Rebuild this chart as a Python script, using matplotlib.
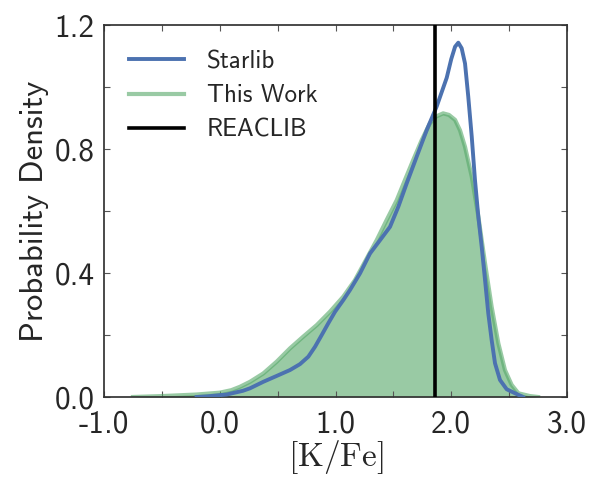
import matplotlib
matplotlib.use("Agg")
import matplotlib.pyplot as plt
from matplotlib.ticker import FixedLocator, FixedFormatter

# Starlib KDE
starlib_x = [-0.20, -0.11, 0.06, 0.20, 0.261, 0.376, 0.492, 0.607, 0.693, 0.765, 0.823,
             0.881, 0.938, 0.996, 1.068, 1.125, 1.212, 1.298, 1.385, 1.471, 1.543, 1.615,
             1.701, 1.788, 1.874, 1.961, 2.00, 2.033, 2.061, 2.09, 2.119, 2.147, 2.177,
             2.205, 2.234, 2.263, 2.292, 2.320, 2.349, 2.378, 2.421, 2.479, 2.551, 2.62]
starlib_y = [0.000, 0.002, 0.008, 0.020, 0.028, 0.049, 0.068, 0.087, 0.106, 0.130, 0.162,
             0.200, 0.238, 0.275, 0.313, 0.345, 0.399, 0.463, 0.506, 0.549, 0.614, 0.689,
             0.775, 0.861, 0.937, 1.030, 1.090, 1.130, 1.143, 1.125, 1.076, 0.969, 0.840,
             0.700, 0.582, 0.485, 0.377, 0.270, 0.184, 0.109, 0.055, 0.025, 0.012, 0.000]

# This Work KDE
this_x = [-0.75, -0.50, -0.20, 0.00, 0.10, 0.175, 0.261, 0.376, 0.492, 0.607, 0.722,
          0.838, 0.952, 1.068, 1.168, 1.27, 1.356, 1.442, 1.529, 1.60, 1.672, 1.745,
          1.816, 1.87, 1.93, 1.98, 2.033, 2.076, 2.119, 2.177, 2.234, 2.292, 2.349,
          2.407, 2.464, 2.522, 2.58, 2.68, 2.75]
this_y = [0.000, 0.003, 0.008, 0.014, 0.022, 0.033, 0.049, 0.076, 0.114, 0.157, 0.195,
          0.232, 0.275, 0.324, 0.377, 0.447, 0.506, 0.571, 0.635, 0.700, 0.765, 0.829,
          0.883, 0.905, 0.915, 0.910, 0.894, 0.860, 0.807, 0.711, 0.582, 0.431, 0.291,
          0.173, 0.087, 0.039, 0.012, 0.003, 0.000]

reaclib_x = 1.86

x_ticks = [-1.0, 0.0, 1.0, 2.0, 3.0]
x_tick_labels = ["-1.0", "0.0", "1.0", "2.0", "3.0"]
x_minor = [-0.5, 0.5, 1.5, 2.5]
y_ticks = [0.0, 0.4, 0.8, 1.2]
y_tick_labels = ["0.0", "0.4", "0.8", "1.2"]
y_minor = [0.2, 0.6, 1.0]

plt.rcParams["font.family"] = ["cmss10", "DejaVu Sans"]
plt.rcParams["mathtext.fontset"] = "cm"
plt.rcParams["axes.unicode_minus"] = False

blue = "#4C72B0"
green = "#55A868"

fig = plt.figure(figsize=(5.9, 4.79), dpi=100)
ax = fig.add_axes([0.1763, 0.1712, 0.7847, 0.7766])

ax.fill_between(this_x, this_y, color=green, alpha=0.6, lw=0, zorder=1)
ax.plot(this_x, this_y, color=green, alpha=0.6, lw=3, label="This Work", zorder=2,
        solid_joinstyle="round")
ax.plot(starlib_x, starlib_y, color=blue, lw=2.8, label="Starlib", zorder=3,
        solid_joinstyle="round")
ax.axvline(reaclib_x, color="black", lw=2.6, label="REACLIB", zorder=4)

ax.set_xlim(-1, 3)
ax.set_ylim(0, 1.2)

ax.xaxis.set_major_locator(FixedLocator(x_ticks))
ax.xaxis.set_major_formatter(FixedFormatter(x_tick_labels))
ax.xaxis.set_minor_locator(FixedLocator(x_minor))
ax.yaxis.set_major_locator(FixedLocator(y_ticks))
ax.yaxis.set_major_formatter(FixedFormatter(y_tick_labels))
ax.yaxis.set_minor_locator(FixedLocator(y_minor))
ax.tick_params(which="both", direction="in", top=True, right=True, length=4,
               width=0.8, color="#555555")
ax.tick_params(which="major", labelsize=22.5, labelcolor="#262626", pad=7)
ax.tick_params(axis="x", which="major", pad=9)

for spine in ax.spines.values():
    spine.set_color("#333333")
    spine.set_linewidth(1.25)

ax.set_xlabel(r"$[\mathrm{K/Fe}]$", fontsize=24, color="#262626", labelpad=0)
ax.set_ylabel("Probability Density", fontsize=23.5, color="#262626", labelpad=4)

handles, labels = ax.get_legend_handles_labels()
order = [labels.index(n) for n in ["Starlib", "This Work", "REACLIB"]]
leg = ax.legend([handles[i] for i in order], [labels[i] for i in order],
                loc="upper left", frameon=False, fontsize=18, handlelength=2.2,
                handletextpad=0.9, labelspacing=0.45, borderaxespad=0.6)
for text in leg.get_texts():
    text.set_color("#262626")

fig.savefig("out.png", dpi=100)
